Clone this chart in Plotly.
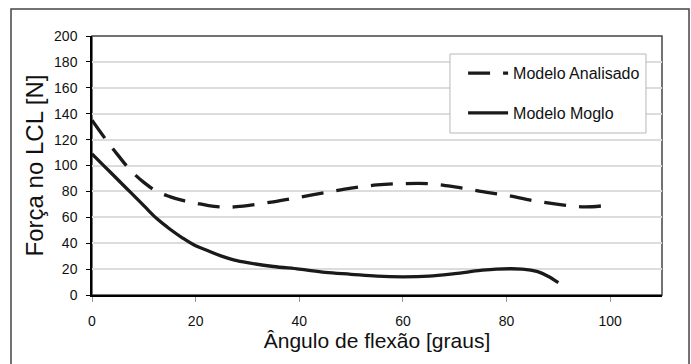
import plotly.graph_objects as go

# Data
angles_analisado = [0, 2.5, 5, 7.5, 10, 12.5, 15, 17.5, 20, 22.5, 25, 27.5, 30, 35, 40, 45,
                    50, 55, 60, 65, 70, 75, 80, 85, 90, 95, 100]
forca_analisado = [135, 121, 108, 96, 87, 80, 76, 73, 71, 69, 68, 68, 69, 72, 75.5, 79,
                   82.5, 85, 86, 86, 83.5, 80, 77, 73, 70, 68, 69.5]

angles_moglo = [0, 2.5, 5, 7.5, 10, 12.5, 15, 17.5, 20, 22.5, 25, 27.5, 30, 35, 40, 45,
                50, 55, 60, 65, 70, 75, 78, 83, 86, 88, 90]
forca_moglo = [109, 99, 89, 79, 69, 59, 51, 44, 38, 34, 30, 27, 25, 22, 20, 17.5,
               16, 14.5, 14, 14.5, 16.5, 19, 20, 20, 18, 14.5, 9.5]

name_analisado = "Modelo Analisado"
name_moglo = "Modelo Moglo"
x_ticks = [0, 20, 40, 60, 80, 100]
y_ticks = [0, 20, 40, 60, 80, 100, 120, 140, 160, 180, 200]

FONT = "Liberation Sans, Arial, sans-serif"
LINE = "#1a1a1a"
TXT = "#111"

fig = go.Figure()
fig.add_trace(go.Scatter(
    x=angles_analisado, y=forca_analisado, name=name_analisado, mode="lines",
    legendgroup="a",
    line=dict(color=LINE, width=3.3, dash="22px,13px", shape="spline"),
))
fig.add_trace(go.Scatter(
    x=angles_moglo, y=forca_moglo, name=name_moglo, mode="lines",
    legendgroup="b",
    line=dict(color=LINE, width=3.3, shape="spline"),
))

fig.update_layout(
    width=691, height=364,
    margin=dict(l=92, r=29, t=36, b=69),
    paper_bgcolor="white", plot_bgcolor="white",
    font=dict(family=FONT, color=TXT),
    showlegend=True,
    legend=dict(
        x=0.651, y=0.922, xanchor="left", yanchor="top",
        bgcolor="rgba(0,0,0,0)", borderwidth=0,
        font=dict(size=16, family=FONT, color=TXT),
        tracegroupgap=16, traceorder="grouped",
        itemwidth=40,
    ),
    xaxis=dict(
        range=[0, 110], tickvals=x_ticks, ticktext=[str(v) for v in x_ticks],
        showgrid=False, zeroline=False,
        showline=True, linecolor="#000", linewidth=1.5,
        ticks="outside", ticklen=5, tickcolor="#999", tickwidth=1,
        ticklabelstandoff=7,
        tickfont=dict(size=14, family=FONT, color=TXT),
        title=dict(text="Ângulo de flexão [graus]", font=dict(size=21, family=FONT, color=TXT),
                   standoff=4),
    ),
    yaxis=dict(
        range=[0, 200], tickvals=y_ticks,
        showgrid=True, gridcolor="#dcdcdc", gridwidth=1.5, zeroline=False,
        showline=True, linecolor="#000", linewidth=1.5,
        ticks="outside", ticklen=4, tickcolor="#000", tickwidth=1,
        ticklabelstandoff=6,
        tickfont=dict(size=14, family=FONT, color=TXT),
        title=dict(text="Força no LCL [N]", font=dict(size=24, family=FONT, color=TXT),
                   standoff=4),
    ),
    shapes=[
        # plot area frame (top/right in dark gray)
        dict(type="rect", xref="paper", yref="paper", x0=0, x1=1, y0=0, y1=1,
             line=dict(color="#444", width=1.5), layer="below"),
        # outer chart border
        dict(type="rect", xref="paper", yref="paper", x0=-0.1421, x1=1.0474,
             y0=-0.30, y1=1.1042, line=dict(color="#444", width=1.5), layer="below"),
        # legend box
        dict(type="rect", xref="paper", yref="paper", x0=0.628, x1=0.9719,
             y0=0.6255, y1=0.9305, fillcolor="white",
             line=dict(color="#b8b8b8", width=1), layer="above"),
    ],
)

fig.write_html(
    "out.html",
    config={"displayModeBar": False},
    post_script="document.body.style.margin='0';document.body.style.padding='0';",
)
